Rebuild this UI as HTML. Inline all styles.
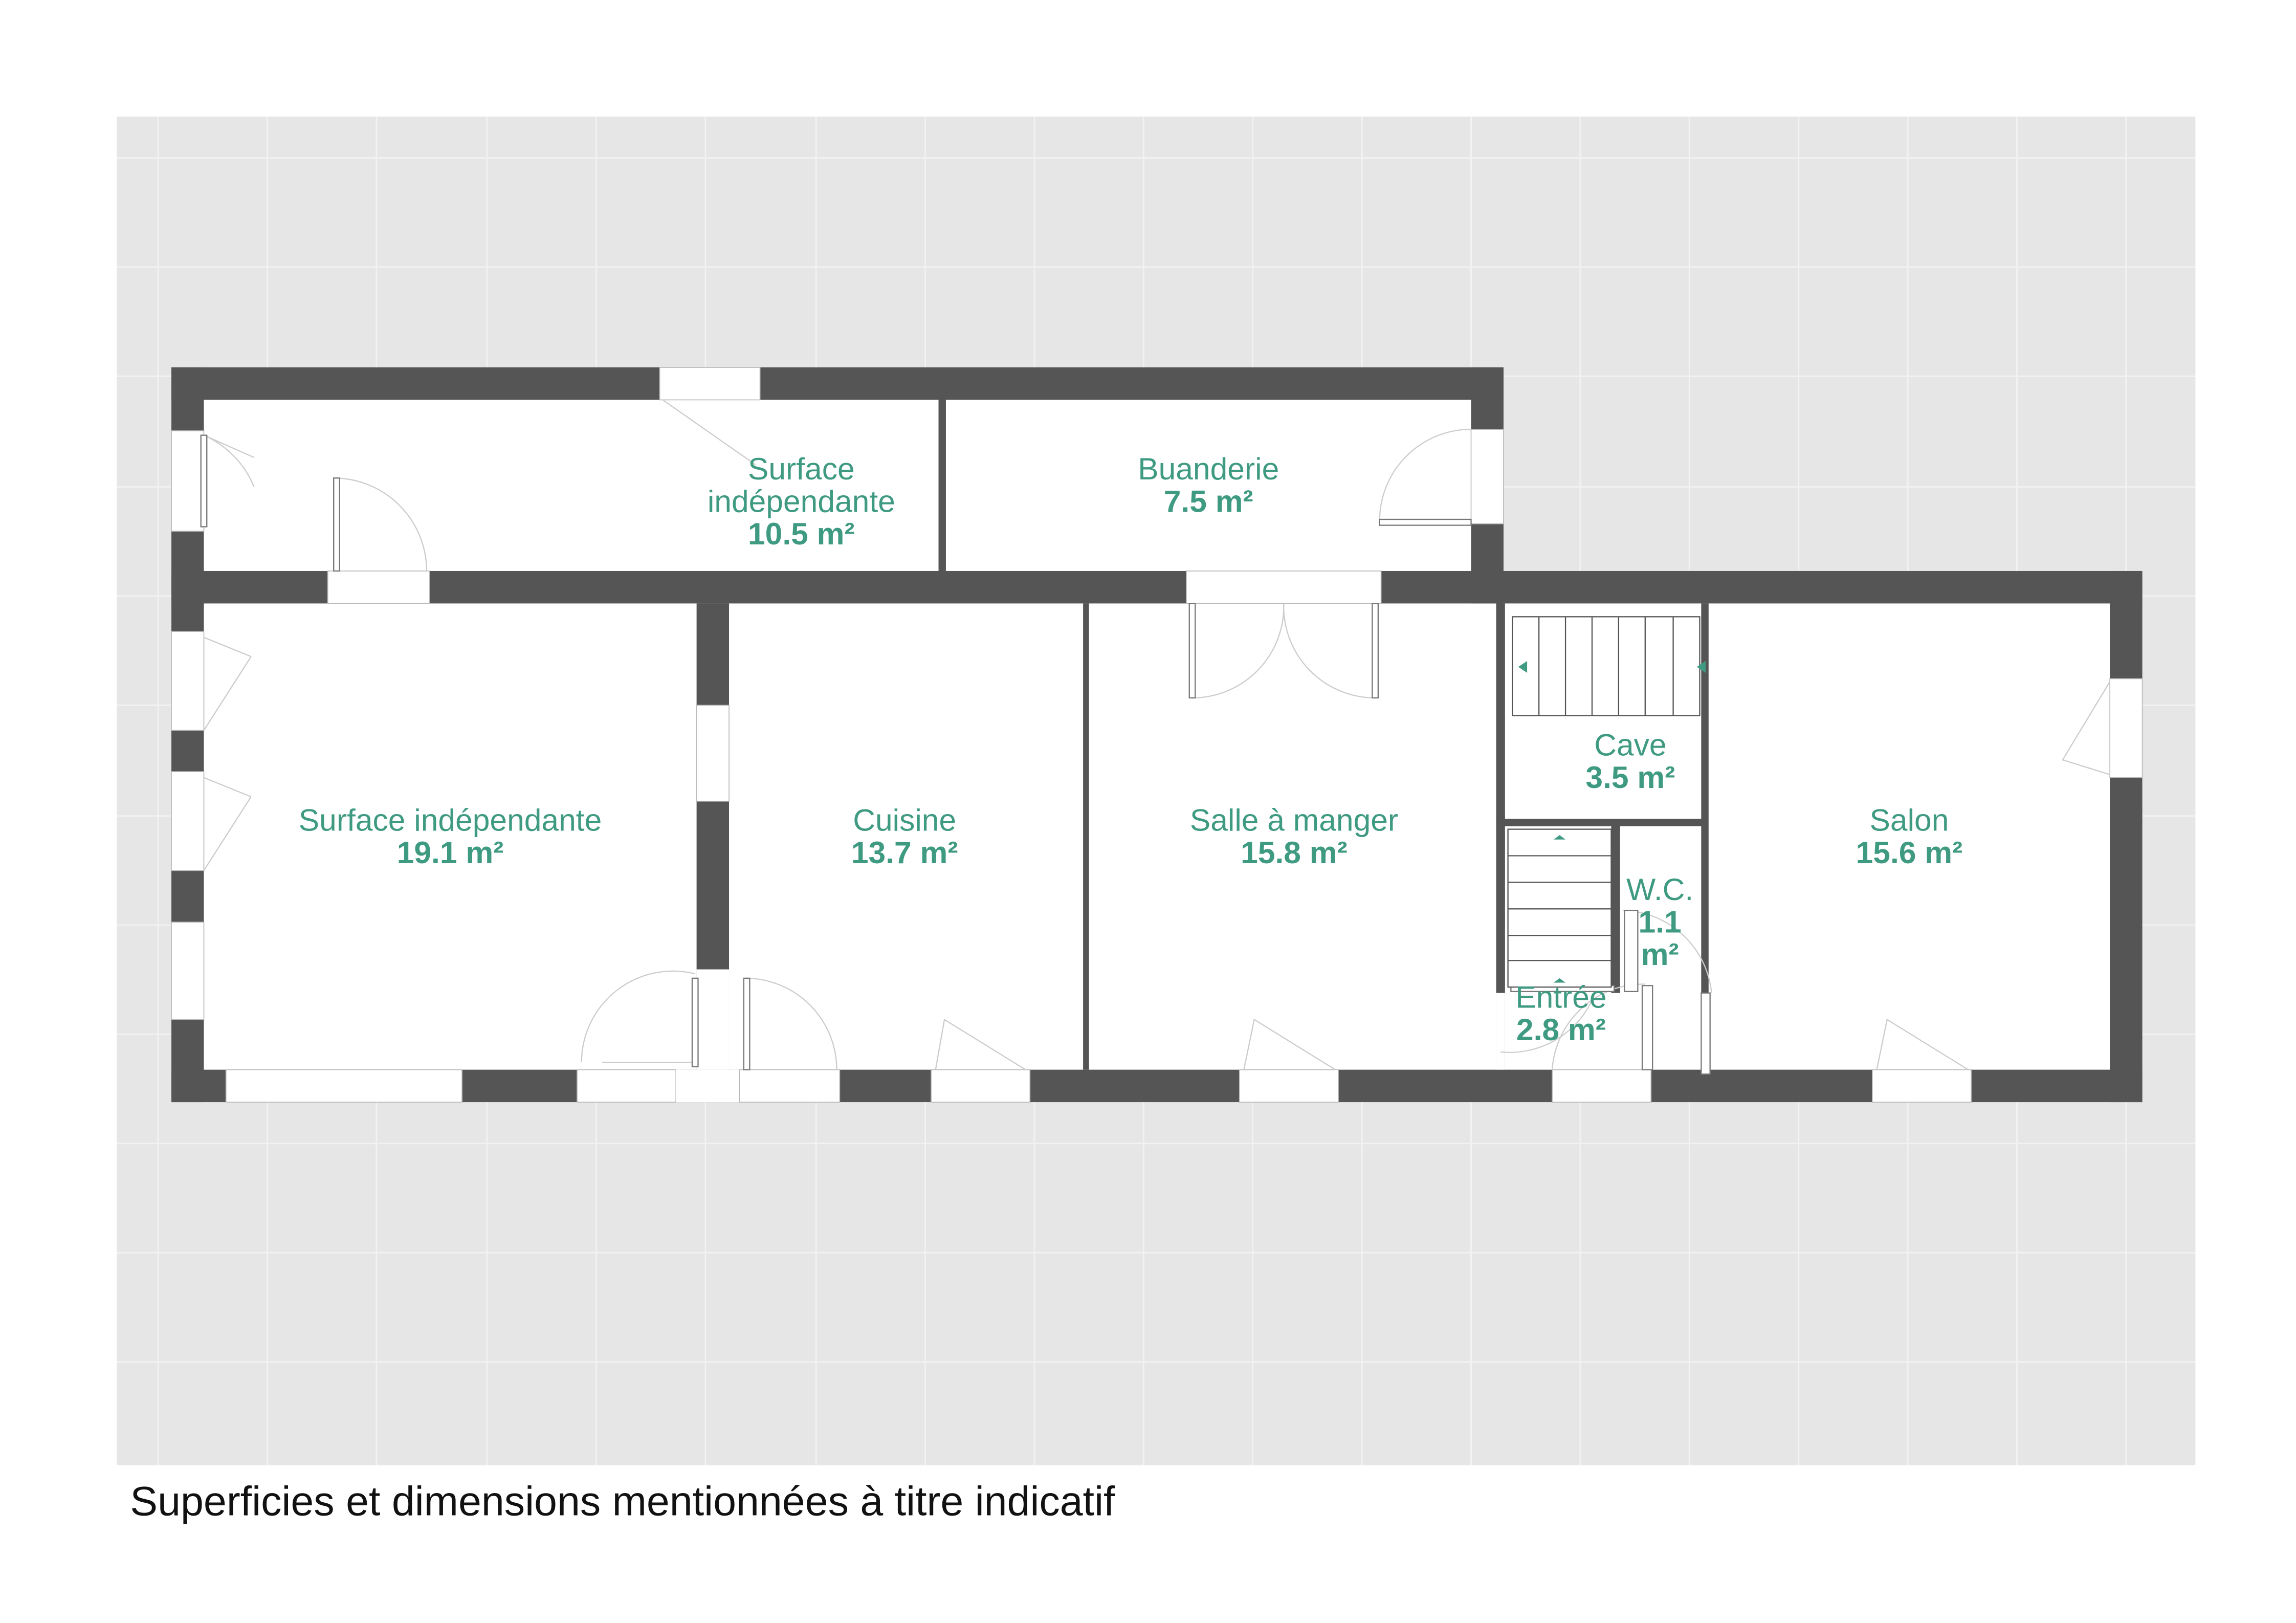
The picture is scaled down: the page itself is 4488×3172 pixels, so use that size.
<!DOCTYPE html>
<html><head><meta charset="utf-8"><style>
html,body{margin:0;padding:0;background:#fff}
svg{display:block}
text{font-family:"Liberation Sans",Arial,sans-serif;fill:#3f9a82;font-size:21px;text-anchor:middle}
.b{font-weight:bold}
</style></head><body>
<svg width="4488" height="3172" viewBox="0 0 1556 1100" xmlns="http://www.w3.org/2000/svg">
<rect width="1556" height="1100" fill="#fff"/>
<rect x="79" y="79" width="1409" height="914" fill="#e6e6e6"/>
<g stroke="#f2f2f2" stroke-width="1">
<path d="M107 79V993M181 79V993M255 79V993M330 79V993M404 79V993M478 79V993M553 79V993M627 79V993M701 79V993M775 79V993M849 79V993M923 79V993M997 79V993M1071 79V993M1145 79V993M1219 79V993M1293 79V993M1367 79V993M1441 79V993"/>
<path d="M79 107H1488M79 181H1488M79 255H1488M79 330H1488M79 404H1488M79 478H1488M79 553H1488M79 627H1488M79 701H1488M79 775H1488M79 849H1488M79 923H1488"/>
</g>
<rect x="116" y="249" width="903" height="160" fill="#fff"/>
<rect x="116" y="387" width="1336" height="360" fill="#fff"/>
<g fill="#555">
<rect x="116" y="249" width="903" height="22"/>
<rect x="116" y="249" width="22" height="498"/>
<rect x="997" y="249" width="22" height="160"/>
<rect x="116" y="387" width="1336" height="22"/>
<rect x="1430" y="387" width="22" height="360"/>
<rect x="116" y="725" width="1336" height="22"/>
<rect x="636" y="271" width="5" height="116"/>
<rect x="472" y="409" width="22" height="316"/>
<rect x="734" y="409" width="4" height="316"/>
<rect x="1014" y="409" width="6" height="316"/>
<rect x="1019" y="555" width="136" height="5"/>
<rect x="1153" y="409" width="5" height="264"/>
<rect x="1092" y="559" width="6" height="114"/>
</g>
<g fill="#fff" stroke="#bbb" stroke-width="0.6">
<rect x="447" y="249" width="68" height="22"/>
<rect x="116" y="292" width="22" height="68"/>
<rect x="116" y="428" width="22" height="67"/>
<rect x="116" y="523" width="22" height="67"/>
<rect x="116" y="625" width="22" height="66"/>
<rect x="153" y="725" width="160" height="22"/>
<rect x="391" y="725" width="67" height="22"/>
<rect x="458" y="725" width="43" height="22" stroke="none"/>
<rect x="501" y="725" width="68" height="22"/>
<rect x="631" y="725" width="67" height="22"/>
<rect x="840" y="725" width="67" height="22"/>
<rect x="1052" y="725" width="67" height="22"/>
<rect x="1269" y="725" width="67" height="22"/>
<rect x="222" y="387" width="69" height="22"/>
<rect x="804" y="387" width="132" height="22"/>
<rect x="1430" y="460" width="22" height="67"/>
<rect x="997" y="291" width="22" height="64"/>
<rect x="472" y="478" width="22" height="65"/>
<rect x="472" y="657" width="22" height="68" stroke="none"/>
<rect x="1014" y="673" width="6" height="52" stroke="none"/>
</g>
<g fill="none" stroke="#ccc" stroke-width="0.8">
<path d="M138 295 L172 310 M138 295 A65 65 0 0 1 172 330"/>
<path d="M226 387 V324 A63 63 0 0 1 289 387"/>
<path d="M449 271 L512 315"/>
<path d="M997 352 H935 A62 62 0 0 1 997 291"/>
<path d="M138 432 L170 445 M138 495 L170 445"/>
<path d="M138 527 L170 540 M138 590 L170 540"/>
<path d="M808 409 V473 A62 62 0 0 0 870 409 A62 62 0 0 0 932 473 V409"/>
<path d="M471 660 A62 62 0 0 0 394 720 M408 720 H471"/>
<path d="M506 663 V725 M506 663 A62 62 0 0 1 567 725"/>
<path d="M634 725 L640 691 L695 725"/>
<path d="M843 725 L850 691 L905 725"/>
<path d="M1272 725 L1279 691 L1334 725"/>
<path d="M1430 462 L1398 515 L1430 525"/>
<path d="M1017 713 A62 62 0 0 0 1083 667 M1052 725 A62 62 0 0 1 1115 667"/>
<path d="M1100 617 A62 62 0 0 1 1160 673"/>
</g>
<g fill="#fff" stroke="#777" stroke-width="0.8">
<rect x="1101" y="617" width="9" height="55"/>
<rect x="1113" y="668" width="7" height="57"/>
<rect x="1153" y="673" width="6" height="55"/>
<rect x="930" y="409" width="4" height="64"/>
<rect x="806" y="409" width="4" height="64"/>
<rect x="469" y="663" width="4" height="60"/>
<rect x="504" y="663" width="4" height="62"/>
<rect x="935" y="352" width="62" height="4"/>
<rect x="226" y="324" width="4" height="63"/>
<rect x="136" y="295" width="4" height="62"/>
<rect x="1024" y="668" width="70" height="4"/>
</g>
<g fill="#fff" stroke="#555" stroke-width="0.8">
<rect x="1025" y="418" width="127" height="67"/>
<path d="M1043 418V485M1061 418V485M1079 418V485M1097 418V485M1115 418V485M1134 418V485"/>
<rect x="1022" y="562" width="70" height="107"/>
<path d="M1022 580H1092M1022 598H1092M1022 616H1092M1022 634H1092M1022 651H1092"/>
</g>
<g fill="#3f9a82">
<path d="M1029 452 l6 -4 v8z M1150 452 l6 -4 v8z M1053 569 l4 -3 l4 3z M1053 666 l4 -3 l4 3z"/>
</g>
<text x="543" y="325">Surface</text>
<text x="543" y="347">indépendante</text>
<text x="543" y="369" class="b">10.5 m²</text>
<text x="819" y="325">Buanderie</text>
<text x="819" y="347" class="b">7.5 m²</text>
<text x="305" y="563">Surface indépendante</text>
<text x="305" y="585" class="b">19.1 m²</text>
<text x="613" y="563">Cuisine</text>
<text x="613" y="585" class="b">13.7 m²</text>
<text x="877" y="563">Salle à manger</text>
<text x="877" y="585" class="b">15.8 m²</text>
<text x="1105" y="512">Cave</text>
<text x="1105" y="534" class="b">3.5 m²</text>
<text x="1125" y="610">W.C.</text>
<text x="1125" y="632" class="b">1.1</text>
<text x="1125" y="654" class="b">m²</text>
<text x="1058" y="683">Entrée</text>
<text x="1058" y="705" class="b">2.8 m²</text>
<text x="1294" y="563">Salon</text>
<text x="1294" y="585" class="b">15.6 m²</text>
<text x="88" y="1027" style="fill:#111;font-size:28px;text-anchor:start">Superficies et dimensions mentionnées à titre indicatif</text>
</svg>
</body></html>
